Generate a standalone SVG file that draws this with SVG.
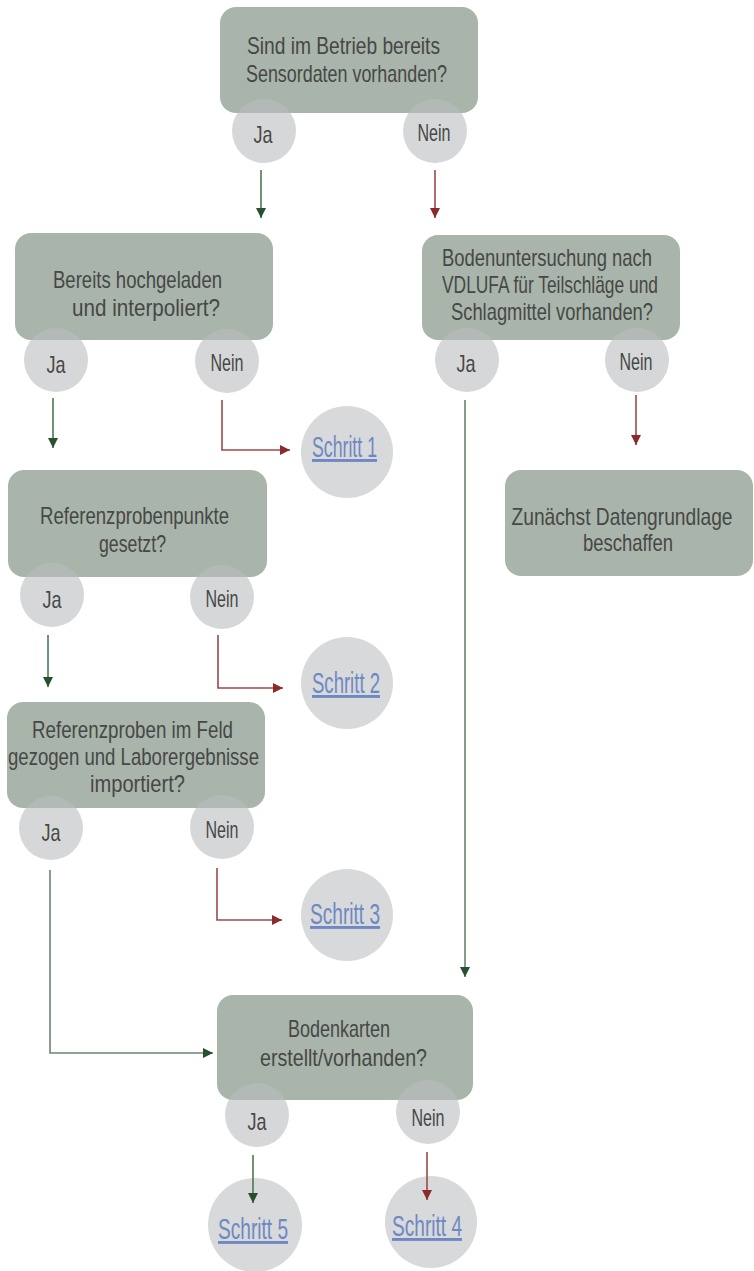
<svg xmlns="http://www.w3.org/2000/svg" width="754" height="1271" viewBox="0 0 754 1271">
  <style>
    .box { fill: #a9b5aa; }
    .opt { fill: #b9bcbe; fill-opacity: 0.6; }
    .step { fill: #d7d9da; }
    .t { font-family: 'Liberation Sans Narrow', 'Liberation Sans', sans-serif; font-size: 24px; fill: #474747; text-anchor: middle; }
    .lbl { font-family: 'Liberation Sans Narrow', 'Liberation Sans', sans-serif; font-size: 24px; fill: #474747; text-anchor: middle; }
    .link { font-family: 'Liberation Sans Narrow', 'Liberation Sans', sans-serif; font-size: 29px; fill: #6f88c3; text-anchor: middle; text-decoration: underline; }
    .yes { fill: none; stroke: #4f7656; stroke-width: 1.6; }
    .yes-long { fill: none; stroke: #6a856f; stroke-width: 1.6; }
    .no { fill: none; stroke: #9c4a4a; stroke-width: 1.6; }
  </style>
  <defs>
    <marker id="headYes" viewBox="0 0 10 10" refX="10" refY="5" markerWidth="10" markerHeight="10" markerUnits="userSpaceOnUse" orient="auto">
      <path d="M0,0 L10,5 L0,10 z" fill="#27502f"/>
    </marker>
    <marker id="headNo" viewBox="0 0 10 10" refX="10" refY="5" markerWidth="10" markerHeight="10" markerUnits="userSpaceOnUse" orient="auto">
      <path d="M0,0 L10,5 L0,10 z" fill="#8b2a2a"/>
    </marker>
  </defs>

  <!-- question 1 -->
  <g id="q-sensordaten">
    <rect class="box" x="220" y="7" width="258" height="106" rx="16"/>
    <text class="t" x="343.5" y="54" textLength="193" lengthAdjust="spacingAndGlyphs">Sind im Betrieb bereits</text>
    <text class="t" x="346.5" y="82" textLength="201" lengthAdjust="spacingAndGlyphs">Sensordaten vorhanden?</text>
    <circle class="opt" cx="264" cy="131" r="32"/>
    <text class="lbl" x="263" y="143" textLength="19" lengthAdjust="spacingAndGlyphs">Ja</text>
    <circle class="opt" cx="435" cy="131" r="32"/>
    <text class="lbl" x="434" y="141" textLength="33" lengthAdjust="spacingAndGlyphs">Nein</text>
  </g>

  <!-- question 2 -->
  <g id="q-hochgeladen">
    <rect class="box" x="15" y="233" width="258" height="107" rx="16"/>
    <text class="t" x="137.5" y="288" textLength="169" lengthAdjust="spacingAndGlyphs">Bereits hochgeladen</text>
    <text class="t" x="146" y="316" textLength="148" lengthAdjust="spacingAndGlyphs">und interpoliert?</text>
    <circle class="opt" cx="56" cy="360" r="32"/>
    <text class="lbl" x="56" y="373" textLength="19" lengthAdjust="spacingAndGlyphs">Ja</text>
    <circle class="opt" cx="227" cy="361" r="32"/>
    <text class="lbl" x="227" y="371" textLength="33" lengthAdjust="spacingAndGlyphs">Nein</text>
  </g>

  <!-- question: soil analysis -->
  <g id="q-bodenuntersuchung">
    <rect class="box" x="422" y="235" width="258" height="105" rx="16"/>
    <text class="t" x="547" y="266" textLength="210" lengthAdjust="spacingAndGlyphs">Bodenuntersuchung nach</text>
    <text class="t" x="550" y="293" textLength="216" lengthAdjust="spacingAndGlyphs">VDLUFA für Teilschläge und</text>
    <text class="t" x="552" y="320" textLength="202" lengthAdjust="spacingAndGlyphs">Schlagmittel vorhanden?</text>
    <circle class="opt" cx="467" cy="360" r="32"/>
    <text class="lbl" x="466" y="372" textLength="19" lengthAdjust="spacingAndGlyphs">Ja</text>
    <circle class="opt" cx="637" cy="360" r="32"/>
    <text class="lbl" x="636" y="370" textLength="33" lengthAdjust="spacingAndGlyphs">Nein</text>
  </g>

  <!-- result: acquire data -->
  <g id="r-datengrundlage">
    <rect class="box" x="505" y="470" width="248" height="106" rx="16"/>
    <text class="t" x="622" y="525" font-size="22" textLength="221" lengthAdjust="spacingAndGlyphs">Zunächst Datengrundlage</text>
    <text class="t" x="628" y="551" textLength="90" lengthAdjust="spacingAndGlyphs">beschaffen</text>
  </g>

  <!-- question 3 -->
  <g id="q-referenzpunkte">
    <rect class="box" x="8" y="470" width="259" height="107" rx="16"/>
    <text class="t" x="134.5" y="524" textLength="189" lengthAdjust="spacingAndGlyphs">Referenzprobenpunkte</text>
    <text class="t" x="132.5" y="552" textLength="67" lengthAdjust="spacingAndGlyphs">gesetzt?</text>
    <circle class="opt" cx="52" cy="595" r="32"/>
    <text class="lbl" x="52" y="608" textLength="19" lengthAdjust="spacingAndGlyphs">Ja</text>
    <circle class="opt" cx="222" cy="597" r="32"/>
    <text class="lbl" x="222" y="607" textLength="33" lengthAdjust="spacingAndGlyphs">Nein</text>
  </g>

  <!-- question 4 -->
  <g id="q-referenzproben">
    <rect class="box" x="7" y="702" width="258" height="106" rx="16"/>
    <text class="t" x="132.5" y="738" textLength="201" lengthAdjust="spacingAndGlyphs">Referenzproben im Feld</text>
    <text class="t" x="133.5" y="765" textLength="251" lengthAdjust="spacingAndGlyphs">gezogen und Laborergebnisse</text>
    <text class="t" x="137.5" y="792" textLength="95" lengthAdjust="spacingAndGlyphs">importiert?</text>
    <circle class="opt" cx="51" cy="828" r="32"/>
    <text class="lbl" x="51" y="841" textLength="19" lengthAdjust="spacingAndGlyphs">Ja</text>
    <circle class="opt" cx="222" cy="827" r="32"/>
    <text class="lbl" x="222" y="838" textLength="33" lengthAdjust="spacingAndGlyphs">Nein</text>
  </g>

  <!-- question 5 -->
  <g id="q-bodenkarten">
    <rect class="box" x="217" y="995" width="256" height="105" rx="16"/>
    <text class="t" x="339" y="1037" textLength="102" lengthAdjust="spacingAndGlyphs">Bodenkarten</text>
    <text class="t" x="343.5" y="1066" textLength="167" lengthAdjust="spacingAndGlyphs">erstellt/vorhanden?</text>
    <circle class="opt" cx="257" cy="1115" r="32"/>
    <text class="lbl" x="257" y="1130" textLength="19" lengthAdjust="spacingAndGlyphs">Ja</text>
    <circle class="opt" cx="428" cy="1112" r="32"/>
    <text class="lbl" x="428" y="1126" textLength="33" lengthAdjust="spacingAndGlyphs">Nein</text>
  </g>

  <!-- step links -->
  <g id="s-schritt1">
    <circle class="step" cx="347" cy="452" r="46"/>
    <text class="link" x="344.5" y="457" textLength="65" lengthAdjust="spacingAndGlyphs">Schritt 1</text>
  </g>
  <g id="s-schritt2">
    <circle class="step" cx="347" cy="683" r="46"/>
    <text class="link" x="346" y="693" textLength="68" lengthAdjust="spacingAndGlyphs">Schritt 2</text>
  </g>
  <g id="s-schritt3">
    <circle class="step" cx="347" cy="915" r="46"/>
    <text class="link" x="345" y="924" textLength="70" lengthAdjust="spacingAndGlyphs">Schritt 3</text>
  </g>
  <g id="s-schritt5">
    <circle class="step" cx="255" cy="1225" r="47"/>
    <text class="link" x="253" y="1239" textLength="70" lengthAdjust="spacingAndGlyphs">Schritt 5</text>
  </g>
  <g id="s-schritt4">
    <circle class="step" cx="431" cy="1222" r="46"/>
    <text class="link" x="427" y="1236" textLength="70" lengthAdjust="spacingAndGlyphs">Schritt 4</text>
  </g>

  <!-- connectors, drawn last so arrowheads stay visible over the step circles -->
  <g id="connectors">
    <path class="yes" d="M261,170 V218" marker-end="url(#headYes)"/>
    <path class="no" d="M435,170 V218" marker-end="url(#headNo)"/>

    <path class="yes" d="M53,398 V448" marker-end="url(#headYes)"/>
    <path class="no" d="M222,400 V450 H290" marker-end="url(#headNo)"/>

    <path class="yes-long" d="M465,400 V977" marker-end="url(#headYes)"/>
    <path class="no" d="M636,395 V445" marker-end="url(#headNo)"/>

    <path class="yes" d="M48,635 V687" marker-end="url(#headYes)"/>
    <path class="no" d="M218,635 V688 H283" marker-end="url(#headNo)"/>

    <path class="yes-long" d="M50,870 V1053 H213" marker-end="url(#headYes)"/>
    <path class="no" d="M217,868 V920 H282" marker-end="url(#headNo)"/>

    <path class="yes" d="M253,1155 V1203" marker-end="url(#headYes)"/>
    <path class="no" d="M427,1152 V1200" marker-end="url(#headNo)"/>
  </g>
</svg>
